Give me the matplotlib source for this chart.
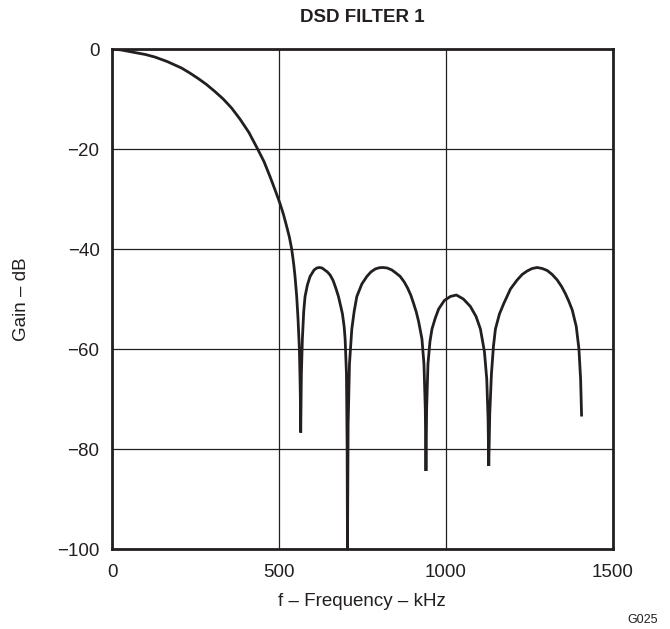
import matplotlib
matplotlib.use("Agg")
import matplotlib.pyplot as plt

# curve (frequency in kHz, gain in dB)
freq_khz = [0, 28, 60, 100, 128, 165, 208, 233, 258, 283, 308, 333, 358, 383, 410, 436,
            455, 473, 490, 503, 513, 523, 531, 538, 544, 548, 553, 557, 561, 563, 564, 565,
            567, 570, 574, 578, 585, 593, 605, 613, 621, 629, 637, 645, 653, 662, 670, 678,
            685, 690, 695, 698, 702, 704, 705,
            707, 711, 718, 725, 733, 748, 763, 775, 788, 800, 811, 824, 838, 850, 863, 875,
            885, 895, 903, 911, 918, 928, 934, 938, 940,
            942, 946, 952, 958, 968, 978, 995, 1013, 1031, 1052, 1073, 1090, 1103, 1115, 1122,
            1126, 1128,
            1131, 1136, 1142, 1148, 1160, 1173, 1193, 1213, 1228, 1243, 1258, 1273, 1288, 1303,
            1318, 1333, 1346, 1358, 1368, 1378, 1390, 1398, 1403, 1406]
gain_db = [0, -0.2, -0.6, -1.1, -1.6, -2.5, -3.8, -4.8, -5.9, -7.1, -8.5, -10.0, -11.8, -14.0, -16.7, -20,
           -22.5, -25.5, -28.5, -30.9, -33, -35.5, -37.6, -40, -43, -45.5, -49.5, -54, -60, -66, -70, -76.7,
           -65, -58, -52.5, -49.5, -47.2, -45.5, -44.2, -43.8, -43.7, -43.8, -44.2, -44.6, -45.2, -46.3, -47.8, -49.5,
           -51.5, -53, -55.5, -58, -65, -80, -100,
           -75, -63, -56, -52.5, -49.5, -47, -45.5, -44.6, -44.0, -43.75, -43.7, -43.8, -44.2, -44.8, -45.5, -46.6,
           -47.8, -49.3, -50.9, -52.6, -54.5, -58, -63, -72, -84.4,
           -72, -63, -58.5, -56, -53.8, -52, -50.3, -49.5, -49.2, -50, -51.5, -53.5, -56, -60.5, -66,
           -74, -83.4,
           -73, -65, -59.5, -56, -53, -50.9, -48, -46.2, -45.1, -44.4, -43.9, -43.7, -43.9, -44.3,
           -45.1, -46.2, -47.5, -49, -50.5, -52.2, -55.5, -60, -66, -73.5]

x_ticks = [0, 500, 1000, 1500]
y_ticks = [0, -20, -40, -60, -80, -100]

ink = "#231f20"
plt.rcParams['font.family'] = ['Liberation Sans', 'DejaVu Sans']

fig = plt.figure(figsize=(6.70, 6.29), dpi=100)
ax = fig.add_axes([112/670, 80/629, 501/670, 500/629])

ax.plot(freq_khz, gain_db, color=ink, lw=2.0, solid_joinstyle="bevel", solid_capstyle="butt", zorder=3)

ax.set_xlim(0, 1500)
ax.set_ylim(-100, 0)
ax.set_xticks(x_ticks)
ax.set_yticks(y_ticks)
ax.grid(True, color=ink, lw=0.9)
ax.tick_params(length=0, labelsize=13.5, labelcolor=ink)
ax.tick_params(axis="x", pad=11)
ax.tick_params(axis="y", pad=9)
for s in ax.spines.values():
    s.set_linewidth(2.0)
    s.set_color(ink)
    s.set_zorder(4)

fig.text(362/670, 1 - 18/629, "DSD FILTER 1", ha="center", va="center",
         fontsize=13.5, fontweight="bold", color=ink)
fig.text(362/670, 1 - 602/629, "f \u2013 Frequency \u2013 kHz", ha="center", va="center",
         fontsize=13.5, color=ink)
fig.text(22/670, 1 - 299/629, "Gain \u2013 dB", ha="center", va="center", rotation=90,
         fontsize=13.5, color=ink)
fig.text(658/670, 1 - 620/629, "G025", ha="right", va="center", fontsize=9, color=ink)

fig.savefig("out.png", dpi=100, facecolor="white")
